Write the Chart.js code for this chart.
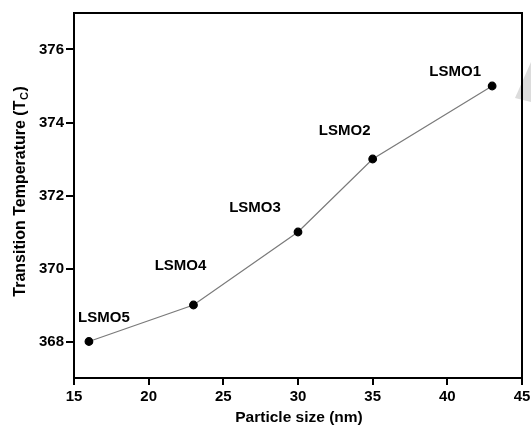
<!DOCTYPE html>
<html>
<head>
<meta charset="utf-8">
<script src="https://cdn.jsdelivr.net/npm/chart.js@4.4.1/dist/chart.umd.min.js"></script>
<style>
  html, body { margin: 0; padding: 0; background: #fff; }
  #wrap { position: relative; width: 531px; height: 433px; }
</style>
</head>
<body>
<div id="wrap"><canvas id="c" width="531" height="433"></canvas></div>
<script>
// ---- Data ----
const particleSize = [16, 23, 30, 35, 43];
const transitionTemp = [368, 369, 371, 373, 375];
const sampleNames = ['LSMO5', 'LSMO4', 'LSMO3', 'LSMO2', 'LSMO1'];
const xTicks = [15, 20, 25, 30, 35, 40, 45];
const yTicks = [368, 370, 372, 374, 376];

// ---- Style (label offsets in pixels relative to each point) ----
const labelOffsets = [[15, -24], [-13, -39], [-43, -24], [-28, -28], [-37, -14]];
const FONT = '"Liberation Sans", Arial, sans-serif';

const points = particleSize.map((x, i) => ({ x: x, y: transitionTemp[i] }));

const framePlugin = {
  id: 'frame',
  beforeDatasetsDraw(chart) {
    const { ctx } = chart;
    // faint grey arrow artifact at right edge
    ctx.save();
    ctx.fillStyle = '#dcdcdc';
    ctx.beginPath();
    ctx.moveTo(515, 98);
    ctx.lineTo(531, 62);
    ctx.lineTo(531, 102);
    ctx.closePath();
    ctx.fill();
    ctx.restore();
  },
  afterDraw(chart) {
    const { ctx, chartArea: a, scales } = chart;
    ctx.save();
    ctx.strokeStyle = '#000';
    ctx.lineWidth = 2;
    ctx.beginPath();
    ctx.moveTo(a.left, a.top);
    ctx.lineTo(a.right, a.top);
    ctx.lineTo(a.right, a.bottom);
    ctx.stroke();

    // point labels
    ctx.fillStyle = '#000';
    ctx.font = 'bold 15px ' + FONT;
    ctx.textAlign = 'center';
    ctx.textBaseline = 'middle';
    sampleNames.forEach((name, i) => {
      const px = scales.x.getPixelForValue(particleSize[i]);
      const py = scales.y.getPixelForValue(transitionTemp[i]);
      ctx.fillText(name, px + labelOffsets[i][0], py + labelOffsets[i][1]);
    });

    // x axis title
    ctx.font = 'bold 15.5px ' + FONT;
    ctx.fillText('Particle size (nm)', (a.left + a.right) / 2 + 1, 418);

    // y axis title with subscript
    ctx.translate(21, 192);
    ctx.rotate(-Math.PI / 2);
    const main = 'Transition Temperature (T';
    const sub = 'C';
    const close = ')';
    ctx.font = 'bold 16px ' + FONT;
    const wMain = ctx.measureText(main).width;
    const wClose = ctx.measureText(close).width;
    ctx.font = 'bold 11px ' + FONT;
    const wSub = ctx.measureText(sub).width;
    const total = wMain + wSub + wClose;
    let x0 = -total / 2;
    ctx.textAlign = 'left';
    ctx.font = 'bold 16px ' + FONT;
    ctx.fillText(main, x0, 0);
    ctx.font = 'bold 11px ' + FONT;
    ctx.fillText(sub, x0 + wMain + 0.5, 4);
    ctx.font = 'bold 16px ' + FONT;
    ctx.fillText(close, x0 + wMain + wSub + 1, 0);
    ctx.restore();
  }
};

new Chart(document.getElementById('c'), {
  type: 'scatter',
  data: {
    datasets: [{
      data: points,
      showLine: true,
      borderColor: '#7a7a7a',
      borderWidth: 1.2,
      pointBackgroundColor: '#000',
      pointBorderColor: '#000',
      pointRadius: 3.8,
      pointHoverRadius: 3.8
    }]
  },
  options: {
    responsive: false,
    animation: false,
    devicePixelRatio: 1,
    layout: { padding: { top: 13, right: 9, left: 0, bottom: 0 } },
    plugins: { legend: { display: false }, tooltip: { enabled: false } },
    scales: {
      x: {
        type: 'linear',
        min: 15, max: 45,
        afterBuildTicks: s => { s.ticks = xTicks.map(v => ({ value: v })); },
        afterFit: s => { s.height = 55; s.paddingRight = 0; s.paddingLeft = 0; },
        grid: { display: true, drawOnChartArea: false, drawTicks: true, tickLength: 7, color: '#000', lineWidth: 2 },
        border: { display: true, color: '#000', width: 2 },
        ticks: { color: '#000', font: { family: FONT, size: 15, weight: 'bold' }, padding: 3, maxRotation: 0 }
      },
      y: {
        type: 'linear',
        min: 367, max: 377,
        afterBuildTicks: s => { s.ticks = yTicks.map(v => ({ value: v })); },
        afterFit: s => { s.width = 74; s.paddingTop = 0; s.paddingBottom = 0; },
        grid: { display: true, drawOnChartArea: false, drawTicks: true, tickLength: 8, color: '#000', lineWidth: 2 },
        border: { display: true, color: '#000', width: 2 },
        ticks: { color: '#000', font: { family: FONT, size: 15, weight: 'bold' }, padding: 2 }
      }
    }
  },
  plugins: [framePlugin]
});
</script>
</body>
</html>
